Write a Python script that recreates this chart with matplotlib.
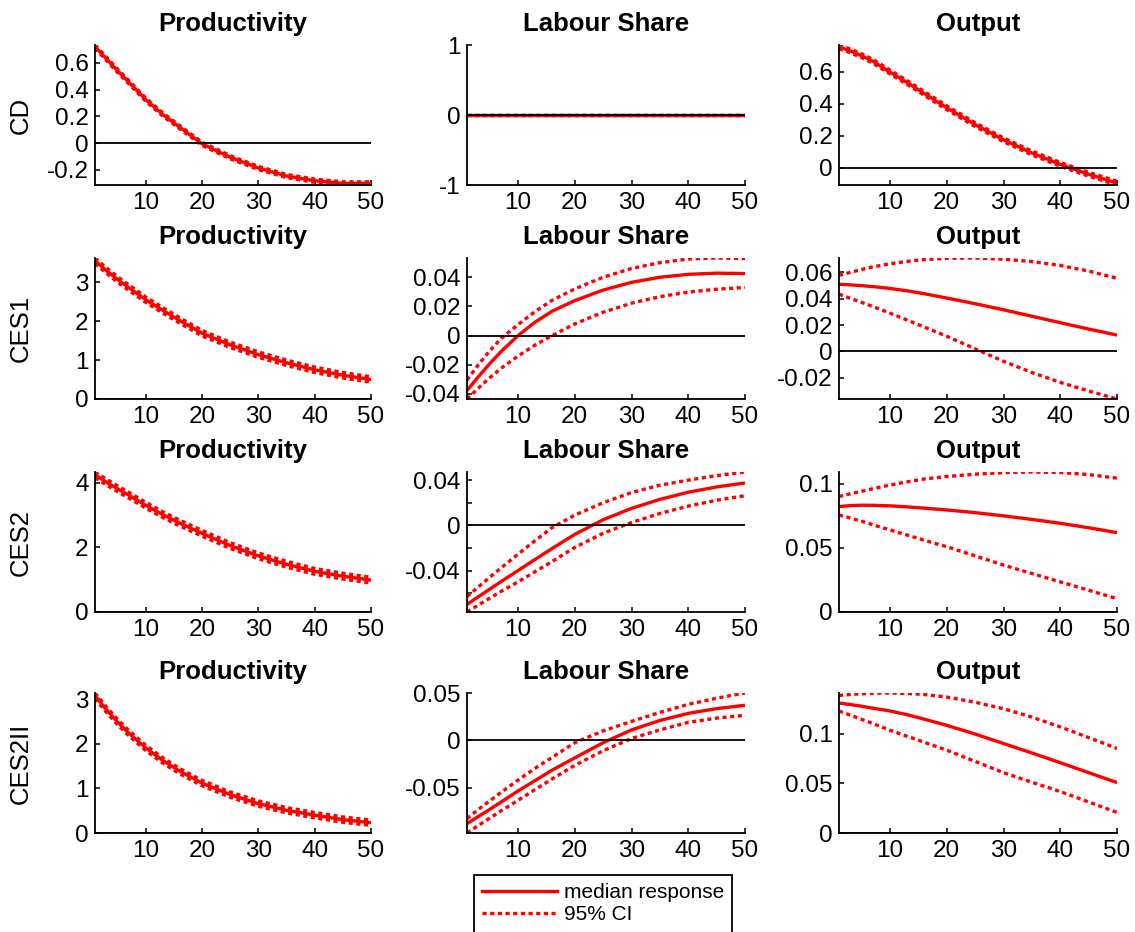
import matplotlib
matplotlib.use('Agg')
import matplotlib.pyplot as plt
from matplotlib.lines import Line2D

plt.rcParams['font.family'] = ['Liberation Sans', 'DejaVu Sans']
plt.rcParams['axes.unicode_minus'] = False

# ---------------- data ----------------
periods = [1, 3, 5, 7, 10, 13, 16, 20, 25, 30, 35, 40, 45, 50]
models = ['CD', 'CES1', 'CES2', 'CES2II']
variables = ['Productivity', 'Labour Share', 'Output']
xticks = [10, 20, 30, 40, 50]
legend_labels = ['median response', '95% CI']

# CD
cd_prod_med = [0.720, 0.630, 0.540, 0.455, 0.325, 0.215, 0.120, -0.005, -0.105, -0.185, -0.245, -0.280, -0.300, -0.300]
cd_prod_lo = [0.708, 0.618, 0.528, 0.443, 0.313, 0.203, 0.108, -0.017, -0.117, -0.197, -0.257, -0.292, -0.312, -0.312]
cd_prod_hi = [0.732, 0.642, 0.552, 0.467, 0.337, 0.227, 0.132, 0.007, -0.093, -0.173, -0.233, -0.268, -0.288, -0.288]
cd_ls_med = [0.0, 0.0, 0.0, 0.0, 0.0, 0.0, 0.0, 0.0, 0.0, 0.0, 0.0, 0.0, 0.0, 0.0]
cd_ls_lo = [0.0, 0.0, 0.0, 0.0, 0.0, 0.0, 0.0, 0.0, 0.0, 0.0, 0.0, 0.0, 0.0, 0.0]
cd_ls_hi = [0.0, 0.0, 0.0, 0.0, 0.0, 0.0, 0.0, 0.0, 0.0, 0.0, 0.0, 0.0, 0.0, 0.0]
cd_out_med = [0.755, 0.730, 0.700, 0.665, 0.598, 0.533, 0.465, 0.375, 0.270, 0.175, 0.093, 0.022, -0.040, -0.095]
cd_out_lo = [0.743, 0.718, 0.688, 0.653, 0.586, 0.521, 0.453, 0.363, 0.258, 0.163, 0.081, 0.010, -0.052, -0.107]
cd_out_hi = [0.767, 0.742, 0.712, 0.677, 0.610, 0.545, 0.477, 0.387, 0.282, 0.187, 0.105, 0.034, -0.028, -0.083]

# CES1
ces1_prod_med = [3.55, 3.30, 3.07, 2.86, 2.55, 2.28, 2.02, 1.69, 1.39, 1.14, 0.93, 0.75, 0.61, 0.50]
ces1_prod_lo = [3.48, 3.23, 3.00, 2.79, 2.48, 2.21, 1.95, 1.62, 1.32, 1.07, 0.86, 0.68, 0.54, 0.43]
ces1_prod_hi = [3.62, 3.37, 3.14, 2.93, 2.62, 2.35, 2.09, 1.76, 1.46, 1.21, 1.00, 0.82, 0.68, 0.57]
ces1_ls_med = [-0.0377, -0.0282, -0.0193, -0.0110, 0.0000, 0.0092, 0.0167, 0.0240, 0.0312, 0.0365, 0.0400, 0.0420, 0.0428, 0.0425]
ces1_ls_lo = [-0.0435, -0.0360, -0.0290, -0.0225, -0.0140, -0.0065, 0.0000, 0.0080, 0.0160, 0.0222, 0.0267, 0.0298, 0.0318, 0.0330]
ces1_ls_hi = [-0.0305, -0.0200, -0.0105, -0.0020, 0.0075, 0.0165, 0.0242, 0.0320, 0.0400, 0.0460, 0.0500, 0.0525, 0.0532, 0.0528]
ces1_out_med = [0.0510, 0.0505, 0.0499, 0.0492, 0.0478, 0.0460, 0.0438, 0.0405, 0.0362, 0.0316, 0.0267, 0.0218, 0.0170, 0.0124]
ces1_out_lo = [0.0434, 0.0403, 0.0372, 0.0340, 0.0290, 0.0238, 0.0185, 0.0115, 0.0020, -0.0075, -0.0160, -0.0235, -0.0300, -0.0361]
ces1_out_hi = [0.0578, 0.0600, 0.0622, 0.0642, 0.0665, 0.0683, 0.0697, 0.0707, 0.0709, 0.0700, 0.0682, 0.0652, 0.0610, 0.0555]

# CES2
ces2_prod_med = [4.25, 4.03, 3.82, 3.62, 3.31, 3.02, 2.76, 2.44, 2.06, 1.74, 1.48, 1.26, 1.11, 0.99]
ces2_prod_lo = [4.16, 3.94, 3.73, 3.53, 3.22, 2.93, 2.67, 2.35, 1.97, 1.65, 1.39, 1.17, 1.02, 0.90]
ces2_prod_hi = [4.34, 4.12, 3.91, 3.71, 3.40, 3.11, 2.85, 2.53, 2.15, 1.83, 1.57, 1.35, 1.20, 1.08]
ces2_ls_med = [-0.0700, -0.0632, -0.0565, -0.0498, -0.0400, -0.0302, -0.0205, -0.0080, 0.0050, 0.0150, 0.0230, 0.0293, 0.0340, 0.0375]
ces2_ls_lo = [-0.0767, -0.0705, -0.0645, -0.0585, -0.0500, -0.0410, -0.0320, -0.0195, -0.0070, 0.0025, 0.0105, 0.0170, 0.0222, 0.0262]
ces2_ls_hi = [-0.0630, -0.0545, -0.0460, -0.0377, -0.0255, -0.0135, -0.0020, 0.0090, 0.0200, 0.0290, 0.0355, 0.0400, 0.0440, 0.0472]
ces2_out_med = [0.0822, 0.0830, 0.0833, 0.0832, 0.0828, 0.0820, 0.0810, 0.0796, 0.0775, 0.0750, 0.0722, 0.0692, 0.0657, 0.0619]
ces2_out_lo = [0.0757, 0.0733, 0.0708, 0.0680, 0.0640, 0.0600, 0.0560, 0.0509, 0.0438, 0.0366, 0.0300, 0.0235, 0.0170, 0.0104]
ces2_out_hi = [0.0901, 0.0922, 0.0942, 0.0962, 0.0990, 0.1015, 0.1037, 0.1057, 0.1075, 0.1087, 0.1092, 0.1088, 0.1072, 0.1044]

# CES2II
ces2ii_prod_med = [3.08, 2.77, 2.49, 2.24, 1.91, 1.63, 1.39, 1.12, 0.86, 0.66, 0.51, 0.40, 0.30, 0.23]
ces2ii_prod_lo = [3.02, 2.71, 2.43, 2.18, 1.85, 1.57, 1.33, 1.06, 0.80, 0.60, 0.45, 0.34, 0.24, 0.17]
ces2ii_prod_hi = [3.14, 2.83, 2.55, 2.30, 1.97, 1.69, 1.45, 1.18, 0.92, 0.72, 0.57, 0.46, 0.36, 0.29]
ces2ii_ls_med = [-0.0880, -0.0805, -0.0730, -0.0652, -0.0535, -0.0425, -0.0315, -0.0185, -0.0025, 0.0110, 0.0210, 0.0285, 0.0335, 0.0370]
ces2ii_ls_lo = [-0.0979, -0.0900, -0.0822, -0.0745, -0.0634, -0.0520, -0.0408, -0.0264, -0.0110, 0.0020, 0.0110, 0.0190, 0.0235, 0.0264]
ces2ii_ls_hi = [-0.0827, -0.0730, -0.0640, -0.0550, -0.0420, -0.0295, -0.0180, -0.0025, 0.0100, 0.0200, 0.0295, 0.0380, 0.0445, 0.0500]
ces2ii_out_med = [0.1307, 0.1292, 0.1275, 0.1255, 0.1227, 0.1190, 0.1145, 0.1083, 0.0995, 0.0900, 0.0805, 0.0707, 0.0607, 0.0507]
ces2ii_out_lo = [0.1227, 0.1185, 0.1143, 0.1100, 0.1033, 0.0973, 0.0913, 0.0833, 0.0720, 0.0607, 0.0510, 0.0417, 0.0312, 0.0207]
ces2ii_out_hi = [0.1383, 0.1393, 0.1401, 0.1406, 0.1408, 0.1403, 0.1393, 0.1367, 0.1315, 0.1250, 0.1165, 0.1067, 0.0960, 0.0850]

# y ticks per panel
yt_cd_prod = [-0.2, 0, 0.2, 0.4, 0.6]
yt_cd_ls = [-1, 0, 1]
yt_cd_out = [0, 0.2, 0.4, 0.6]
yt_ces1_prod = [0, 1, 2, 3]
yt_ces1_ls = [-0.04, -0.02, 0, 0.02, 0.04]
yt_ces1_out = [-0.02, 0, 0.02, 0.04, 0.06]
yt_ces2_prod = [0, 2, 4]
yt_ces2_ls = [-0.06, -0.04, -0.02, 0, 0.02, 0.04]
yt_ces2_ls_labels = ['', '-0.04', '', '0', '', '0.04']
yt_ces2_out = [0, 0.05, 0.1]
yt_ces2ii_prod = [0, 1, 2, 3]
yt_ces2ii_ls = [-0.05, 0, 0.05]
yt_ces2ii_out = [0, 0.05, 0.1]

panels = [
    [(cd_prod_med, cd_prod_lo, cd_prod_hi, yt_cd_prod, None),
     (cd_ls_med, cd_ls_lo, cd_ls_hi, yt_cd_ls, None),
     (cd_out_med, cd_out_lo, cd_out_hi, yt_cd_out, None)],
    [(ces1_prod_med, ces1_prod_lo, ces1_prod_hi, yt_ces1_prod, None),
     (ces1_ls_med, ces1_ls_lo, ces1_ls_hi, yt_ces1_ls, None),
     (ces1_out_med, ces1_out_lo, ces1_out_hi, yt_ces1_out, None)],
    [(ces2_prod_med, ces2_prod_lo, ces2_prod_hi, yt_ces2_prod, None),
     (ces2_ls_med, ces2_ls_lo, ces2_ls_hi, yt_ces2_ls, yt_ces2_ls_labels),
     (ces2_out_med, ces2_out_lo, ces2_out_hi, yt_ces2_out, None)],
    [(ces2ii_prod_med, ces2ii_prod_lo, ces2ii_prod_hi, yt_ces2ii_prod, None),
     (ces2ii_ls_med, ces2ii_ls_lo, ces2ii_ls_hi, yt_ces2ii_ls, None),
     (ces2ii_out_med, ces2ii_out_lo, ces2ii_out_hi, yt_ces2ii_out, None)],
]

# ---------------- layout ----------------
W, H = 1135, 932
fig = plt.figure(figsize=(W / 100, H / 100), dpi=100)

col_left = [95, 467, 839]
col_right = [371, 745, 1117]
row_top = [45, 258, 472, 693]
row_bot = [185, 399, 612, 833]

RED = (1, 0, 0)
LW = 2.4
DOT = (0, (1.25, 1.05))

for r in range(4):
    for c in range(3):
        med, lo, hi, yt, ytl = panels[r][c]
        l, rr, t, b = col_left[c], col_right[c], row_top[r], row_bot[r]
        ax = fig.add_axes([l / W, 1 - b / H, (rr - l) / W, (b - t) / H])
        ax.plot(periods, hi, color=RED, lw=LW, linestyle=DOT, dash_capstyle='butt')
        ax.plot(periods, lo, color=RED, lw=LW, linestyle=DOT, dash_capstyle='butt')
        ax.plot(periods, med, color=RED, lw=LW, solid_capstyle='butt')
        ax.axhline(0, color='black', lw=1.3, zorder=5)
        ax.set_xlim(1, 50)
        allv = list(med) + list(lo) + list(hi)
        ymin, ymax = min(0.0, min(allv)), max(0.0, max(allv))
        if ymax - ymin == 0:
            ymin, ymax = -1, 1
        ax.set_ylim(ymin, ymax)
        ax.set_xticks(xticks)
        ax.set_xticklabels([str(v) for v in xticks])
        ax.set_yticks(yt)
        if ytl is None:
            ytl = [f"{v:g}" for v in yt]
        ax.set_yticklabels(ytl)
        for s in ['top', 'right']:
            ax.spines[s].set_visible(False)
        for s in ['left', 'bottom']:
            ax.spines[s].set_linewidth(1.3)
            ax.spines[s].set_color('black')
        ax.tick_params(axis='both', direction='in', length=3.5, width=1.1,
                       labelsize=17.5, colors='black')
        ax.tick_params(axis='x', pad=5)
        ax.tick_params(axis='y', pad=4.5)
        ax.set_title(variables[c], fontsize=18.5, fontweight='bold', pad=10)
        if c == 0:
            fig.text(21 / W, 1 - ((t + b) / 2) / H, models[r], rotation=90,
                     ha='center', va='center', fontsize=18.5)

handles = [Line2D([], [], color=RED, lw=LW),
           Line2D([], [], color=RED, lw=LW, linestyle=DOT, dash_capstyle='butt')]
leg = fig.legend(handles, legend_labels, loc='upper center',
                 bbox_to_anchor=(603 / W, 1 - 875 / H), fontsize=15,
                 frameon=True, fancybox=False, framealpha=1, edgecolor='black',
                 handlelength=3.6, handletextpad=0.3, borderpad=0.4,
                 labelspacing=0.15, borderaxespad=0)
leg.get_frame().set_linewidth(1.3)

fig.savefig('out.png', dpi=100)
